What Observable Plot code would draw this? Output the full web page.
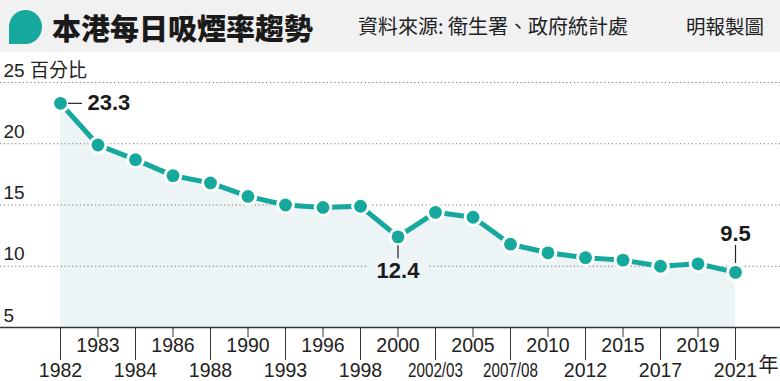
<!DOCTYPE html>
<html><head><meta charset="utf-8">
<script src="https://cdn.jsdelivr.net/npm/d3@7"></script>
<script src="https://cdn.jsdelivr.net/npm/@observablehq/plot@0.6"></script>
<style>
body{margin:0;background:#fff;width:780px;height:381px;overflow:hidden;}
#header{position:relative;height:52px;background:#f1f1f2;font-family:"Noto Sans CJK TC","Noto Sans CJK SC",sans-serif;color:#1a1a1a;}
#bubble{position:absolute;left:9px;top:10px;width:33px;height:34px;background:#16a89d;border-radius:50% 50% 50% 0;}
#title{position:absolute;left:52px;top:6px;font-size:29px;line-height:42px;font-weight:900;letter-spacing:0px;}
#source{position:absolute;left:358px;top:11px;font-size:20px;line-height:30px;font-weight:400;color:#222;}
#credit{position:absolute;left:686px;top:11px;font-size:19.5px;line-height:30px;font-weight:400;color:#222;}
#chart{height:329px;}
</style></head><body>
<div id="header">
  <div id="bubble"></div>
  <div id="title">本港每日吸煙率趨勢</div>
  <div id="source">資料來源: 衛生署、政府統計處</div>
  <div id="credit">明報製圖</div>
</div>
<div id="chart"></div>
<script>
// ---- data ----
const years = ["1982","1983","1984","1986","1988","1990","1993","1996","1998","2000","2002/03","2005","2007/08","2010","2012","2015","2017","2019","2021"];
const rates = [23.3,19.9,18.7,17.4,16.8,15.7,15.0,14.8,14.9,12.4,14.4,14.0,11.8,11.1,10.7,10.5,10.0,10.2,9.5];
const topRowYears = ["1983","1986","1990","1996","2000","2005","2010","2015","2019"];
const bottomRowYears = ["1982","1984","1988","1993","1998","2002/03","2007/08","2012","2017","2021"];
const yTicks = [5,10,15,20,25];
const yUnit = "百分比";
const xUnit = "年";
const labelLeft = ["1982"];   // label to the right of the point
const labelBelow = ["2000"];  // label below the point
const labelAbove = ["2021"];  // label above the point

const data = years.map((y,i)=>({year:y, value:rates[i]}));
const pick = list => data.filter(d => list.includes(d.year));

const teal = "#16a89d";
const areaFill = "#edf4f6";
const font = "'Liberation Sans', Arial, 'Noto Sans CJK TC', sans-serif";

const chart = Plot.plot({
  width: 780, height: 329,
  marginTop: 30, marginBottom: 54, marginLeft: 60, marginRight: 45,
  style: {fontFamily: font, color: "#222", background: "transparent", overflow: "visible"},
  x: {type: "point", domain: years, padding: 0, round: false, axis: null, label: null},
  y: {domain: [5, 25], axis: null, label: null},
  marks: [
    Plot.areaY(data, {x: "year", y1: 5, y2: "value", fill: areaFill}),
    Plot.ruleY(yTicks.filter(t => t > 5), {stroke: "#777", strokeWidth: 1.1, strokeDasharray: "1.2,2.6", insetLeft: -60, insetRight: -45}),
    Plot.ruleY([5], {stroke: "#333", strokeWidth: 1.3, insetLeft: -60, insetRight: -45}),
    // y tick labels
    Plot.text(yTicks, {y: d => d, text: d => d === 25 ? `${d} ${yUnit}` : `${d}`, frameAnchor: "left", textAnchor: "start", dx: -57, dy: -12, fontSize: 19, fill: "#222"}),
    // x axes (two staggered rows)
    Plot.axisX({ticks: topRowYears, tickSize: 10, tickPadding: 1, fontSize: 19.5, label: null, stroke: "#333"}),
    Plot.axisX({ticks: bottomRowYears, tickSize: 33, tickPadding: 3, fontSize: 19.5, label: null, stroke: "#333"}),
    Plot.text(pick(labelAbove), {x: "year", text: () => xUnit, frameAnchor: "bottom", textAnchor: "start", dx: 23, dy: 44, fontSize: 20, fill: "#222", fontFamily: "'Noto Sans CJK TC', sans-serif"}),
    // label below with halo hiding gridline
    Plot.text(pick(labelBelow), {x: "year", y: "value", text: d => d.value.toFixed(1), dy: 34, fontSize: 22, fontWeight: "bold", fill: "#1a1a1a", stroke: areaFill, strokeWidth: 20, strokeLinejoin: "round"}),
    // line and dots
    Plot.lineY(data, {x: "year", y: "value", stroke: teal, strokeWidth: 5}),
    Plot.dot(data, {x: "year", y: "value", r: 9.3, fill: "white"}),
    Plot.dot(data, {x: "year", y: "value", r: 6.4, fill: teal}),
    // connectors
    Plot.ruleY(pick(labelLeft), {x1: "year", x2: "year", y: "value", stroke: "#222", strokeWidth: 1.2, insetLeft: -7, insetRight: -7, dx: 15}),
    Plot.ruleX(pick(labelBelow), {x: "year", y1: "value", y2: "value", stroke: "#222", strokeWidth: 1.2, insetTop: -6.5, insetBottom: -6.5, dy: 15.5}),
    Plot.ruleX(pick(labelAbove), {x: "year", y1: "value", y2: "value", stroke: "#222", strokeWidth: 1.2, insetTop: -9, insetBottom: -9, dy: -18}),
    // value labels
    Plot.text(pick(labelLeft), {x: "year", y: "value", text: d => d.value.toFixed(1), textAnchor: "start", dx: 27, dy: 0, fontSize: 22, fontWeight: "bold", fill: "#1a1a1a"}),
    Plot.text(pick(labelAbove), {x: "year", y: "value", text: d => d.value.toFixed(1), dy: -38, fontSize: 22, fontWeight: "bold", fill: "#1a1a1a"})
  ]
});
// condense the fiscal-year tick labels like the original
chart.querySelectorAll("text").forEach(t => {
  if (t.textContent.includes("/")) {
    t.setAttribute("textLength", 55);
    t.setAttribute("lengthAdjust", "spacingAndGlyphs");
  }
});
document.getElementById("chart").appendChild(chart);
</script>
</body></html>
